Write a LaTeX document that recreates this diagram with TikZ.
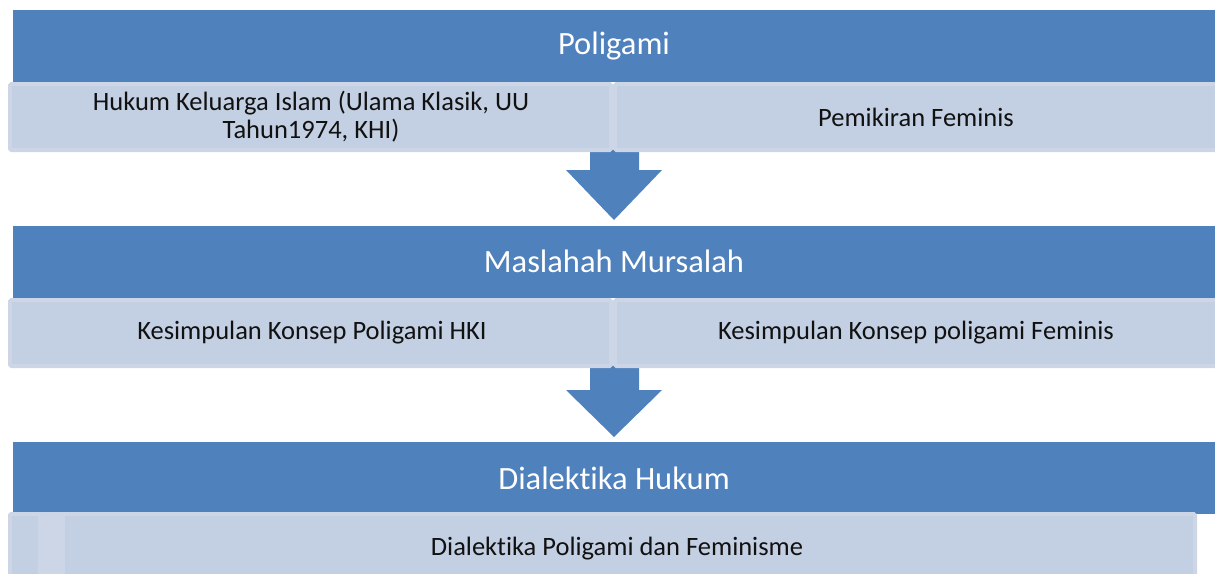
\documentclass[tikz,border=0pt]{standalone}
\usepackage{fontspec}
\setmainfont{Carlito}[Ligatures={NoCommon}]
\definecolor{band}{HTML}{4F81BD}
\definecolor{cell}{HTML}{C3CFE2}
\definecolor{cellrim}{HTML}{CDD6E7}
\definecolor{ink}{HTML}{111111}
\tikzset{
  bandbox/.style={fill=band, draw=none},
  cellbox/.style={fill=cell, draw=cellrim, line width=4pt, rounded corners=1.5pt},
  bandtext/.style={text=white, font=\fontsize{32.5}{38}\selectfont, inner sep=0pt},
  celltext/.style={text=ink, font=\fontsize{26.5}{28}\selectfont, inner sep=0pt, align=center},
  downarrow/.style={fill=band, draw=none}
}
\begin{document}
\begin{tikzpicture}[x=1pt,y=-1pt]
\useasboundingbox (0,0) rectangle (1215,573);
% arrows (behind cells)
\fill[downarrow] (590,140) -- (639,140) -- (639,170) -- (662,170) -- (614,220) -- (566,170) -- (590,170) -- cycle;
\fill[downarrow] (590,360) -- (639,360) -- (639,390) -- (662,390) -- (614,437) -- (566,390) -- (590,390) -- cycle;
% level 1
\fill[bandbox] (13,10) rectangle (1215,82);
\node[bandtext] (t1) at (614,46) {Poligami};
\draw[cellbox] (10,84) rectangle (611,150);
\draw[cellbox] (615,84) rectangle (1217,150);
\node[celltext] (c11) at (311,117) {Hukum Keluarga Islam (Ulama Klasik, UU\\Tahun1974, KHI)};
\node[celltext] (c12) at (916,117) {Pemikiran Feminis};
% level 2
\fill[bandbox] (13,226) rectangle (1215,298);
\node[bandtext] (t2) at (614,261) {Maslahah Mursalah};
\draw[cellbox] (10,300) rectangle (611,366);
\draw[cellbox] (615,300) rectangle (1217,366);
\node[celltext] (c21) at (312,333) {Kesimpulan Konsep Poligami HKI};
\node[celltext] (c22) at (916,333) {Kesimpulan Konsep poligami Feminis};
% level 3
\fill[bandbox] (13,442) rectangle (1215,514);
\node[bandtext] (t3) at (614,478) {Dialektika Hukum};
\draw[cellbox] (10,514) rectangle (1195,580);
\draw[cellbox] (10,514) rectangle (63,580);
\fill[cellrim] (38,516) rectangle (61,580);
\node[celltext] (c31) at (617,549) {Dialektika Poligami dan Feminisme};
\end{tikzpicture}
\end{document}
